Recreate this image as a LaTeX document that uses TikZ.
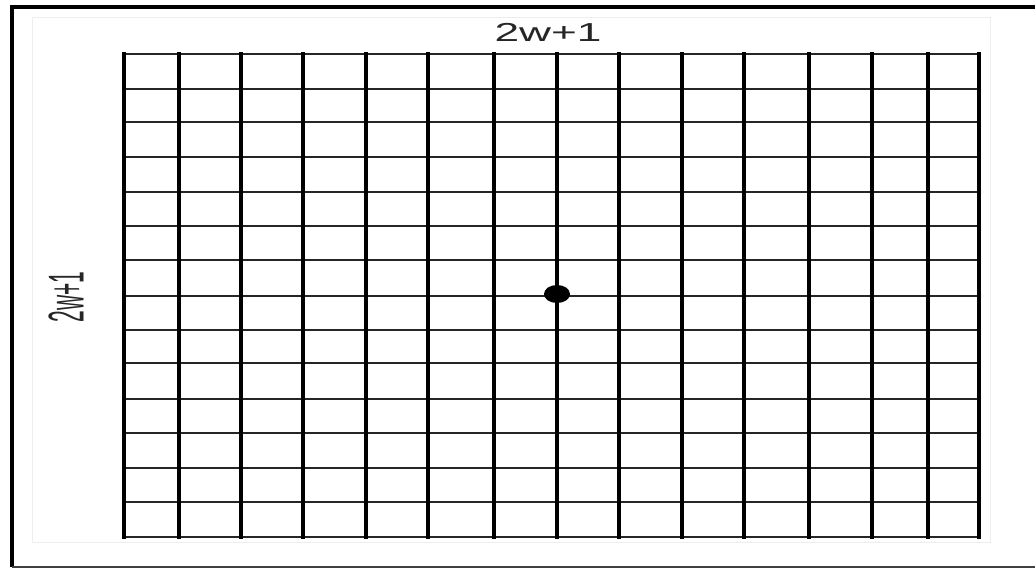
\documentclass[tikz,border=0pt]{standalone}
\usepackage{fontspec}
\setmainfont{Liberation Sans}
\begin{document}
\begin{tikzpicture}[x=1pt,y=-1pt,
  vline/.style={line width=3.6pt, black},
  hline/.style={line width=2.6pt, black!85},
  frameline/.style={line width=4.2pt, black},
  faint/.style={line width=1pt, black!7},
  lbl/.style={inner sep=0pt, text=black!85}]
\useasboundingbox (0,0) rectangle (1035,569);
\fill[white] (0,0) rectangle (1035,569);
% faint inner frame
\draw[faint] (32,18) rectangle (990,542);
% outer frame (right side lies beyond the picture)
\draw[frameline] (1045,7) -- (12,7) -- (12,567);
\draw[line width=2pt, black!75] (12,567) -- (1045,567);
% grid
\foreach \y in {54,89,122,157,192,226,260,296,330,363,399,433,468,502,537}
  \draw[hline] (124,\y) -- (979,\y);
\foreach \x in {124,179,241,303,366,428,494,557,619,682,744,809,872,928,979}
  \draw[vline, line cap=rect] (\x,54) -- (\x,537);
% centre point
\fill (557,294) ellipse (13 and 9);
% labels
\node[lbl] (top) at (548,32) {\fontsize{26}{26}\selectfont\scalebox{1.7}[1]{2w+1}};
\node[lbl] (left) at (66,297) {\rotatebox{90}{\scalebox{1}[2.4]{\fontsize{21}{21}\selectfont 2w+1}}};
\end{tikzpicture}
\end{document}
